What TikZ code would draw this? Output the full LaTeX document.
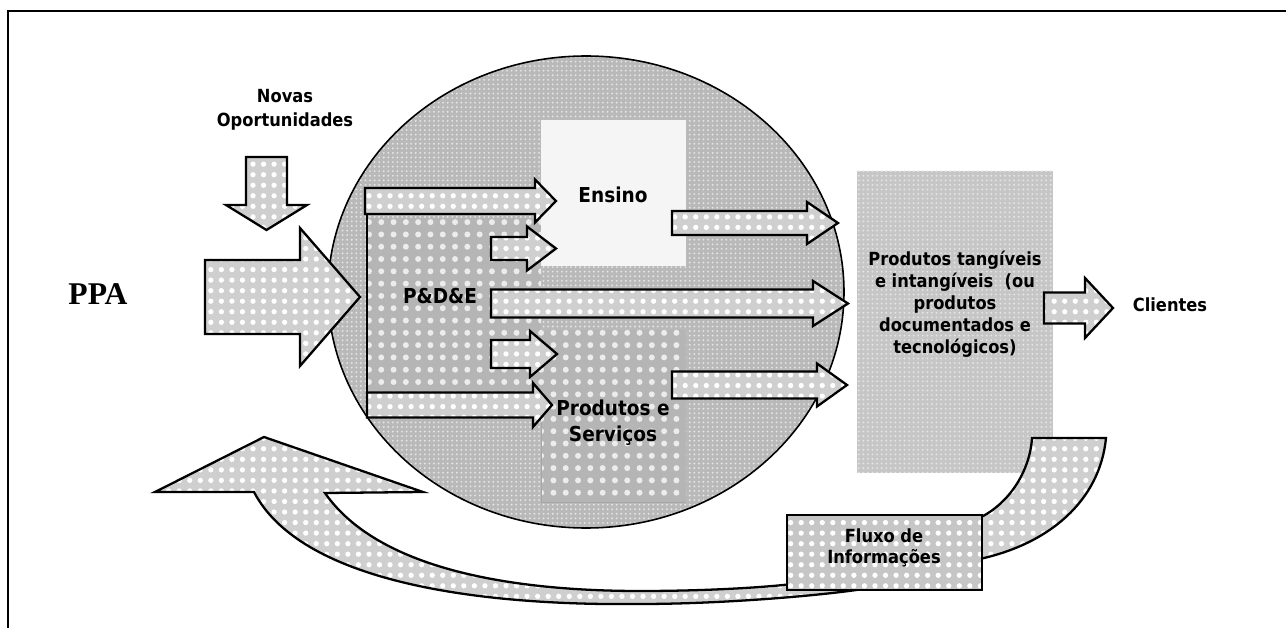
\documentclass[tikz,border=0pt]{standalone}
\usepackage{fontspec}
\setmainfont{Liberation Serif}
\newfontfamily\labelfont{DejaVu Sans Condensed}
\usetikzlibrary{patterns.meta}

\begin{document}
\begin{tikzpicture}[x=0.02cm, y=-0.02cm,
        lbl/.style={font=\labelfont\bfseries\fontsize{10.3pt}{12.5pt}\selectfont, align=center, inner sep=0pt},
        biglbl/.style={font=\labelfont\bfseries\fontsize{11.7pt}{14.7pt}\selectfont, align=center, inner sep=0pt},
        blockarrow/.style={draw=black, line width=1.3pt, line join=miter, preaction={fill=gray!38},
            pattern={Dots[radius=1.5pt, distance=6pt]}, pattern color=white},
        dotted area/.style={preaction={fill=gray!58}, pattern={Dots[radius=1.7pt, distance=7pt]}, pattern color=white!85!gray},
        speckle/.style={preaction={fill=gray!55}, pattern={Dots[radius=0.6pt, distance=2.6pt]}, pattern color=white!80!gray}
    ]
    \useasboundingbox (0,0) rectangle (1286,628);

    % Frame
    \draw[line width=1.1pt] (8,628) -- (8,11) -- (1286,11);

    % Circle with its areas
    \begin{scope}
        \clip (586,292) ellipse [x radius=258, y radius=236];
        \fill[speckle] (320,50) rectangle (850,540);
        \fill[dotted area] (367,218) rectangle (541,392);
        \fill[gray!8] (541,120) rectangle (686,266);
        \fill[dotted area] (541,330) rectangle (686,502);
        \draw[gray!70, line width=0.4pt] (541,423) -- (541,502) -- (686,502);
    \end{scope}
    \draw[line width=0.9pt] (586,292) ellipse [x radius=258, y radius=236];

    % Entry arrows
    \draw[blockarrow] (205,260) -- (300,260) -- (300,228) -- (360,297) -- (300,366) -- (300,334) -- (205,334) -- cycle;
    \draw[blockarrow] (246,157) -- (287,157) -- (287,205) -- (307,205) -- (266.5,230) -- (226,205) -- (246,205) -- cycle;

    % Bracket
    \draw[line width=0.6pt] (367,214) -- (367,393);

    % Arrows inside and out of the circle
    \foreach \xa/\xh/\xt/\yc/\hb/\hh in {365/535/556/201/13/21.5, 491/527/556/248.5/11.5/22,
            491/813/848/303.5/14/22.5, 491/530/557/354/14/23, 367/533/552/405/12.5/22,
            672/807/838/223/12/21, 672/817/847/385/13.5/21.5} {
        \draw[blockarrow] (\xa,\yc-\hb) -- (\xh,\yc-\hb) -- (\xh,\yc-\hh) -- (\xt,\yc)
            -- (\xh,\yc+\hh) -- (\xh,\yc+\hb) -- (\xa,\yc+\hb) -- cycle;
    }

    % Products
    \fill[speckle, preaction={fill=gray!45}] (857,171) rectangle (1053,473);
    \draw[blockarrow] (1044,292.5) -- (1085,292.5) -- (1085,278) -- (1113,308) -- (1085,338) -- (1085,323.5) -- (1044,323.5) -- cycle;

    % Feedback
    \draw[blockarrow] (1032,438) -- (1106,438) .. controls (1100,500) and (1050,545) .. (975,560)
        -- (870,588) .. controls (820,596) and (720,604) .. (640,604)
        .. controls (470,606) and (300,580) .. (254,492) -- (155,492) -- (264,437) -- (423,492) -- (325,493)
        .. controls (380,572) and (520,591) .. (640,591) .. controls (720,591) and (780,586) .. (800,583)
        -- (975,520) .. controls (1010,505) and (1030,470) .. (1032,438) -- cycle;
    \draw[blockarrow, preaction={fill=gray!45}] (787,515) rectangle (982,590);

    % Labels
    \node[font=\bfseries\fontsize{18pt}{20pt}\selectfont] (ppa) at (98,294) {PPA};
    \node[lbl, font=\labelfont\bfseries\fontsize{10.3pt}{13.6pt}\selectfont] (novas) at (285,110) {Novas\\Oportunidades};
    \node[biglbl] (ensino) at (613,195) {Ensino};
    \node[biglbl] (pde) at (440,296) {P\&D\&E};
    \node[biglbl] (prodserv) at (613,423) {Produtos e\\Servi\c{c}os};
    \node[lbl] (produtos) at (955,304) {Produtos tang\'iveis\\e intang\'iveis \ (ou\\produtos\\documentados e\\tecnol\'ogicos)};
    \node[lbl] (clientes) at (1170,305) {Clientes};
    \node[lbl, font=\labelfont\bfseries\fontsize{10.3pt}{12pt}\selectfont] (fluxo) at (884,548) {Fluxo de\\Informa\c{c}\~oes};
\end{tikzpicture}
\end{document}
